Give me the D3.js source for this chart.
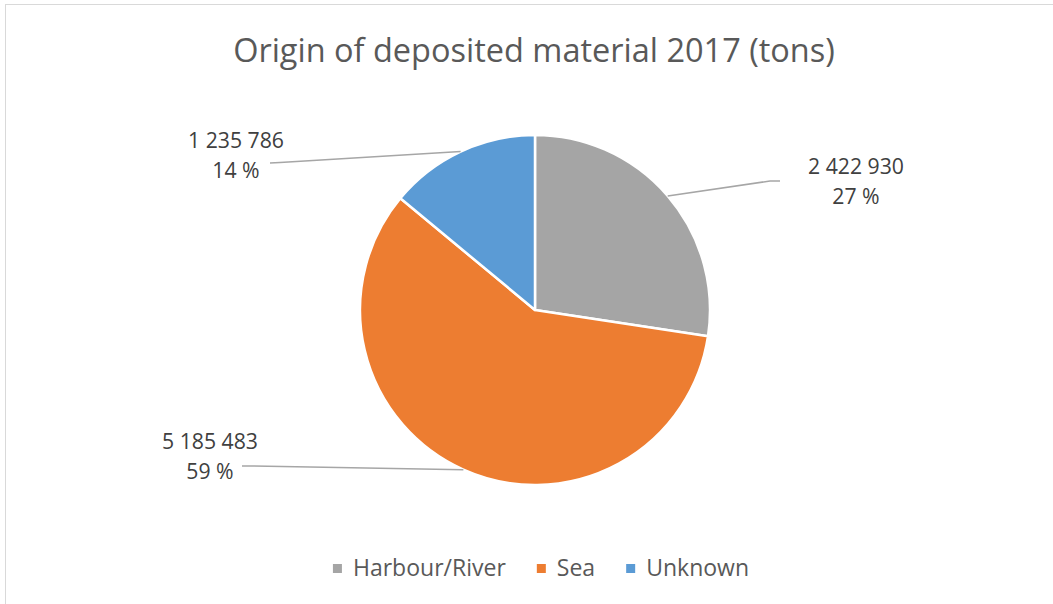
<!DOCTYPE html>
<html><head><meta charset="utf-8">
<script src="https://cdn.jsdelivr.net/npm/d3@7"></script>
<style>html,body{margin:0;padding:0;background:#fff;overflow:hidden}</style>
</head><body>
<svg id="chart" width="1053" height="604"></svg>
<script>
const title = "Origin of deposited material 2017 (tons)";
const categories = ["Harbour/River", "Sea", "Unknown"];
const values = [2422930, 5185483, 1235786];
const colors = ["#A5A5A5", "#ED7D31", "#5B9BD5"];

// layout (relative to pie centre): label text centre / first baseline, leader end, leader elbow
const labelLayout = [
  {tx: 321, ty: -136, ex: 245, ey: -129, bx: 235, by: -129},
  {tx: -325, ty: 139, ex: -293, ey: 156, bx: -283, by: 156},
  {tx: -299, ty: -162, ex: -265, ey: -147, bx: -255, by: -147.5}
];

const W = 1053, H = 604, cx = 535, cy = 310, R = 175;
const FONT = "'Open Sans', sans-serif";
const svg = d3.select("#chart");

svg.append("rect").attr("x", 5.5).attr("y", 4.5).attr("width", W + 10).attr("height", H + 10)
  .attr("fill", "#fff").attr("stroke", "#D9D9D9").attr("stroke-width", 1);

function fitSize(str, target, base) {
  const t = svg.append("text").attr("font-family", FONT).attr("font-size", base).text(str);
  const w = t.node().getComputedTextLength();
  t.remove();
  return base * target / w;
}

const locale = d3.formatLocale({decimal: ",", thousands: " ", grouping: [3], currency: ["", ""]});
const fmt = locale.format(",d");
const total = d3.sum(values);

// title
const titleSize = fitSize(title, 602, 30);
svg.append("text").attr("x", 534).attr("y", 62).attr("text-anchor", "middle")
  .attr("font-family", FONT).attr("font-size", titleSize).attr("fill", "#595959").text(title);

// pie
const pie = d3.pie().sort(null).value(d => d)(values);
const arc = d3.arc().innerRadius(0).outerRadius(R);
const g = svg.append("g").attr("transform", `translate(${cx},${cy})`);
g.selectAll("path.slice").data(pie).join("path").attr("class", "slice")
  .attr("d", arc).attr("fill", (d, i) => colors[i])
  .attr("stroke", "#fff").attr("stroke-width", 2.5).attr("stroke-linejoin", "round");

// labels
const labelSize = fitSize(fmt(values[0]), 96, 20);
pie.forEach((d, i) => {
  const L = labelLayout[i];
  const a = (d.startAngle + d.endAngle) / 2;
  const sx = R * Math.sin(a), sy = -R * Math.cos(a);
  g.append("path").attr("d", d3.line()([[sx, sy], [L.bx, L.by], [L.ex, L.ey]]))
    .attr("fill", "none").attr("stroke", "#A6A6A6").attr("stroke-width", 1.5);
  const t = g.append("text").attr("text-anchor", "middle").attr("font-family", FONT)
    .attr("font-size", labelSize).attr("fill", "#404040");
  t.append("tspan").attr("x", L.tx).attr("y", L.ty).text(fmt(values[i]));
  t.append("tspan").attr("x", L.tx).attr("y", L.ty + 30).text(Math.round(values[i] / total * 100) + " %");
});

// legend
const legSize = fitSize(categories[0], 153, 20);
const sq = 9, gap = 11, itemGap = 31;
const widths = categories.map(c => {
  const t = svg.append("text").attr("font-family", FONT).attr("font-size", legSize).text(c);
  const w = t.node().getComputedTextLength(); t.remove(); return w;
});
const totalW = d3.sum(widths) + categories.length * (sq + gap) + (categories.length - 1) * itemGap;
let x = 541 - totalW / 2;
const legY = 576;
categories.forEach((c, i) => {
  svg.append("rect").attr("x", x).attr("y", legY - 12).attr("width", sq).attr("height", sq).attr("fill", colors[i]);
  svg.append("text").attr("x", x + sq + gap).attr("y", legY).attr("font-family", FONT)
    .attr("font-size", legSize).attr("fill", "#595959").text(c);
  x += sq + gap + widths[i] + itemGap;
});
</script>
</body></html>
